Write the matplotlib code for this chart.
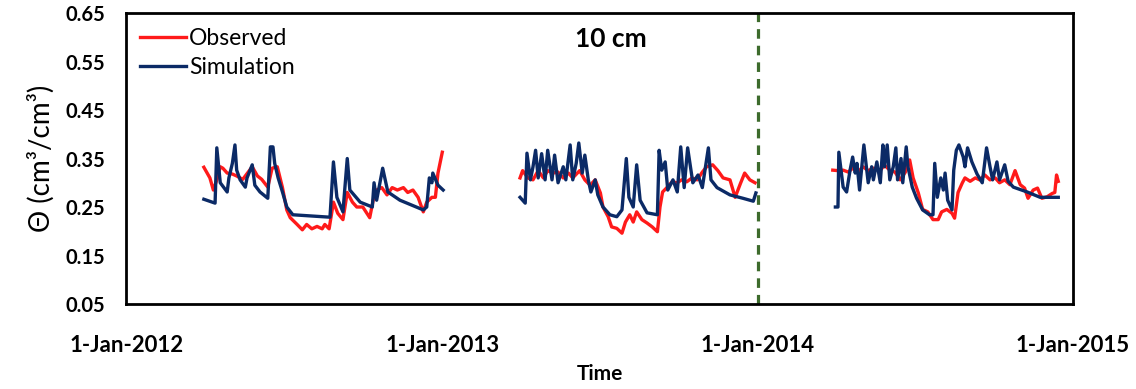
import numpy as np
import pandas as pd
import matplotlib
matplotlib.use("Agg")
import matplotlib.pyplot as plt
import matplotlib.dates as mdates
from matplotlib.ticker import FuncFormatter

plt.rcParams['font.family'] = ['Lato', 'DejaVu Sans']

start = pd.Timestamp("2012-01-01")
nan = np.nan

# days since 1-Jan-2012; nan breaks the seasons
obs_days = [90, 97, 101, 105, 109, 112, 117, 123, 128, 135, 146, 152, 157, 164, 169, 175,
            181, 186, 190, 198, 204, 209, 215, 221, 227, 230, 235, 240, 245, 251, 256, 262,
            267, 274, 282, 286, 290, 296, 302, 308, 314, 321, 326, 332, 338, 344, 348, 354,
            358, 361, 366, nan,
            456, 459, 465, 471, 477, 483, 488, 494, 500, 506, 512, 517, 525, 531, 537, 543,
            549, 552, 558, 562, 568, 574, 578, 583, 587, 591, 597, 603, 609, 615, 618, 621,
            626, 632, 638, 643, 649, 655, 661, 667, 672, 679, 685, 691, 699, 705, 711, 716,
            722, 728, nan,
            818, 824, 830, 836, 841, 847, 853, 859, 865, 873, 878, 884, 890, 896, 902, 907,
            911, 917, 922, 928, 934, 940, 944, 950, 956, 959, 963, 968, 971, 977, 983, 988,
            994, 1000, 1006, 1011, 1017, 1023, 1029, 1035, 1040, 1044, 1050, 1055, 1060,
            1066, 1072, 1075, 1077, 1079]
obs_vals = [0.332, 0.310, 0.285, 0.306, 0.333, 0.330, 0.320, 0.318, 0.314, 0.307, 0.333,
            0.314, 0.307, 0.291, 0.330, 0.333, 0.290, 0.244, 0.228, 0.214, 0.203, 0.214,
            0.205, 0.210, 0.205, 0.214, 0.205, 0.260, 0.237, 0.224, 0.280, 0.260, 0.250,
            0.250, 0.228, 0.264, 0.285, 0.290, 0.275, 0.290, 0.285, 0.290, 0.280, 0.285,
            0.270, 0.240, 0.260, 0.270, 0.270, 0.320, 0.363, nan,
            0.310, 0.325, 0.310, 0.306, 0.325, 0.310, 0.325, 0.320, 0.322, 0.310, 0.320,
            0.310, 0.325, 0.306, 0.295, 0.306, 0.279, 0.250, 0.230, 0.209, 0.206, 0.196,
            0.219, 0.234, 0.219, 0.240, 0.224, 0.217, 0.209, 0.199, 0.250, 0.281, 0.290,
            0.302, 0.300, 0.306, 0.302, 0.310, 0.306, 0.322, 0.333, 0.337, 0.325, 0.310,
            0.306, 0.270, 0.298, 0.320, 0.306, 0.300, nan,
            0.326, 0.325, 0.326, 0.322, 0.330, 0.322, 0.333, 0.325, 0.330, 0.326, 0.336,
            0.326, 0.322, 0.306, 0.322, 0.347, 0.310, 0.279, 0.245, 0.240, 0.224, 0.224,
            0.240, 0.245, 0.237, 0.227, 0.280, 0.300, 0.310, 0.303, 0.310, 0.306, 0.316,
            0.306, 0.310, 0.300, 0.306, 0.296, 0.325, 0.296, 0.289, 0.268, 0.285, 0.289,
            0.268, 0.271, 0.278, 0.280, 0.316, 0.303]

sim_days = [90, 103, 105, 109, 117, 119, 123, 126, 128, 132, 138, 140, 146, 149, 155, 164,
            167, 170, 172, 176, 181, 186, 193, 236, 240, 244, 251, 256, 259, 271, 285, 287,
            290, 297, 303, 317, 344, 348, 351, 354, 355, 361, 367, nan,
            456, 462, 464, 468, 471, 474, 477, 481, 485, 488, 493, 496, 500, 506, 509, 514,
            517, 521, 524, 528, 531, 535, 538, 543, 546, 552, 560, 568, 574, 579, 582, 587,
            591, 595, 603, 615, 617, 620, 624, 627, 633, 638, 642, 646, 650, 656, 662, 667,
            674, 677, 684, 699, 714, 726, 729, nan,
            821, 824, 825, 830, 834, 838, 841, 844, 846, 849, 854, 859, 863, 865, 869, 873,
            876, 878, 881, 884, 888, 891, 893, 897, 899, 903, 905, 910, 915, 922, 930, 934,
            936, 939, 943, 946, 948, 951, 956, 958, 961, 964, 969, 971, 974, 979, 985, 991,
            996, 1000, 1003, 1008, 1011, 1017, 1021, 1027, 1043, 1058, 1079]
sim_vals = [0.266, 0.258, 0.372, 0.300, 0.281, 0.310, 0.340, 0.378, 0.326, 0.306, 0.291,
            0.310, 0.337, 0.295, 0.281, 0.268, 0.374, 0.374, 0.340, 0.310, 0.281, 0.250,
            0.234, 0.229, 0.343, 0.270, 0.240, 0.350, 0.285, 0.260, 0.250, 0.300, 0.264,
            0.330, 0.281, 0.264, 0.244, 0.250, 0.310, 0.300, 0.320, 0.295, 0.285, nan,
            0.270, 0.258, 0.361, 0.306, 0.333, 0.367, 0.310, 0.360, 0.306, 0.367, 0.306,
            0.357, 0.300, 0.333, 0.306, 0.378, 0.306, 0.340, 0.382, 0.320, 0.357, 0.306,
            0.281, 0.306, 0.275, 0.250, 0.234, 0.230, 0.244, 0.350, 0.270, 0.250, 0.337,
            0.264, 0.238, 0.234, 0.367, 0.326, 0.343, 0.285, 0.306, 0.281, 0.374, 0.290,
            0.372, 0.300, 0.316, 0.290, 0.372, 0.306, 0.290, 0.275, 0.268, 0.262, 0.279, nan,
            0.250, 0.250, 0.363, 0.291, 0.281, 0.326, 0.353, 0.320, 0.340, 0.285, 0.378,
            0.300, 0.333, 0.306, 0.343, 0.300, 0.378, 0.333, 0.378, 0.306, 0.333, 0.372,
            0.306, 0.350, 0.300, 0.374, 0.333, 0.291, 0.268, 0.244, 0.234, 0.234, 0.340,
            0.270, 0.310, 0.285, 0.320, 0.264, 0.244, 0.326, 0.367, 0.378, 0.353, 0.333,
            0.372, 0.343, 0.318, 0.300, 0.372, 0.333, 0.306, 0.343, 0.306, 0.337, 0.303,
            0.291, 0.281, 0.270, 0.270]

obs_dates = start + pd.to_timedelta(obs_days, unit="D")
sim_dates = start + pd.to_timedelta(sim_days, unit="D")

fig = plt.figure(figsize=(11.36, 3.89), dpi=100)
ax = fig.add_axes([0.111, 0.2185, 0.8335, 0.748])

ax.plot(obs_dates, obs_vals, color="#ff1a1a", lw=2.4, label="Observed")
ax.plot(sim_dates, sim_vals, color="#0b2a66", lw=2.4, label="Simulation")
ax.axvline(pd.Timestamp("2014-01-01"), color="#3d6b2c", lw=2.3, ls=(0, (3, 2.2)))

ax.set_xlim(pd.Timestamp("2012-01-01"), pd.Timestamp("2015-01-01"))
ax.set_ylim(0.05, 0.65)
ax.set_yticks(np.arange(0.05, 0.66, 0.1))
ax.yaxis.set_major_formatter(FuncFormatter(lambda v, p: f"{v:.2f}"))
ax.xaxis.set_major_locator(mdates.YearLocator())
ax.xaxis.set_major_formatter(FuncFormatter(
    lambda v, p: f"{mdates.num2date(v).day}-{mdates.num2date(v):%b-%Y}"))
ax.tick_params(length=0)
ax.tick_params(axis="y", pad=15, labelsize=14.5)
ax.tick_params(axis="x", pad=22, labelsize=16)
for lab in ax.get_xticklabels() + ax.get_yticklabels():
    lab.set_fontweight("bold")
for s in ax.spines.values():
    s.set_linewidth(2)

ax.set_ylabel("Θ (cm³/cm³)", fontsize=20, labelpad=8)
ax.set_xlabel("Time", fontsize=15, fontweight="bold", labelpad=6)
ax.text(0.512, 0.912, "10 cm", transform=ax.transAxes, ha="center", va="center",
        fontsize=19, fontweight="bold")

ax.legend(loc="upper left", frameon=False, fontsize=16.5, handlelength=2.0,
          handletextpad=0.15, labelspacing=0.35, borderaxespad=0.2,
          bbox_to_anchor=(0.0, 0.995))

fig.savefig("out.png", dpi=100)
